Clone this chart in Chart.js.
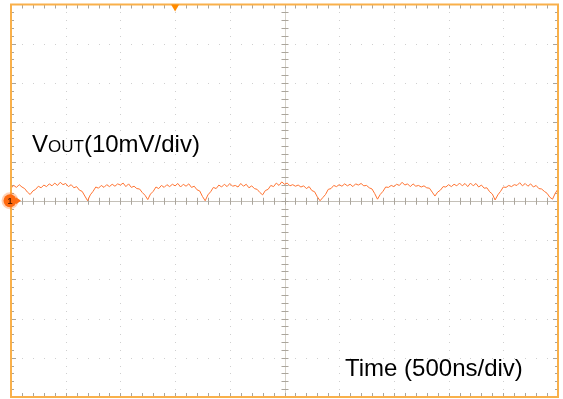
<!DOCTYPE html>
<html>
<head>
<meta charset="utf-8">
<script src="https://cdn.jsdelivr.net/npm/chart.js@4/dist/chart.umd.min.js"></script>
<style>
  html, body { margin: 0; padding: 0; background: #fff; }
  #wrap { width: 563px; height: 399px; position: relative; }
</style>
</head>
<body>
<div id="wrap"><canvas id="scope"></canvas></div>
<script>
// time axis: 500 ns/div, 10 divisions ; voltage: 10 mV/div, 10 divisions
const timeStart = -2500;
const timeStep = 25;
const xTicks = [-2500, -2000, -1500, -1000, -500, 0, 500, 1000, 1500, 2000, 2500];
const yTicks = [-50, -40, -30, -20, -10, 0, 10, 20, 30, 40, 50];

// VOUT ripple (mV), one sample every 25 ns
const vout = [
  3.2, 3.9, 3.4, 4.1, 3.5, 3.1, 2.2, 1.6, 2.5, 2.9,
  3.7, 3.3, 4.0, 3.6, 4.3, 3.8, 4.5, 3.9, 4.7, 4.1,
  4.4, 3.6, 4.1, 3.3, 3.6, 2.7, 2.4, 1.2, 0.0, 1.5,
  2.4, 3.5, 3.2, 3.9, 3.4, 4.1, 3.6, 4.2, 3.7, 4.3,
  4.0, 4.5, 3.6, 4.3, 3.4, 3.7, 3.1, 3.0, 2.1, 1.4,
  0.3, 1.7, 2.4, 3.5, 3.1, 3.9, 3.4, 4.1, 3.6, 4.2,
  3.8, 4.4, 3.5, 4.2, 3.7, 4.3, 3.4, 3.7, 2.8, 2.5,
  1.1, 0.0, 1.5, 2.3, 3.4, 3.1, 4.0, 3.5, 4.2, 3.6,
  4.4, 3.7, 3.9, 3.5, 4.4, 3.7, 4.2, 3.3, 3.8, 3.1,
  2.9, 2.1, 1.5, 2.6, 2.9, 3.9, 3.6, 4.5, 3.9, 4.8,
  4.2, 4.5, 3.8, 4.1, 3.7, 4.0, 3.5, 3.8, 3.1, 3.6,
  2.6, 2.3, 1.0, 0.0, 0.8, 1.6, 2.9, 3.1, 3.9, 3.6,
  4.1, 3.7, 4.3, 3.8, 4.2, 3.6, 4.3, 4.0, 4.4, 3.8,
  3.9, 3.3, 3.0, 1.8, 0.4, 1.6, 2.4, 3.5, 3.4, 3.9,
  3.6, 4.2, 3.9, 4.7, 4.0, 4.3, 3.6, 4.3, 3.7, 3.9,
  3.5, 3.8, 3.3, 3.2, 2.2, 1.2, 2.2, 2.7, 3.6, 3.5,
  4.1, 3.6, 4.2, 3.8, 4.5, 3.8, 4.4, 3.6, 4.5, 3.8,
  4.4, 3.5, 4.0, 3.2, 3.3, 2.3, 1.7, 0.2, 1.5, 2.4,
  3.5, 3.4, 3.9, 3.6, 4.1, 3.9, 4.6, 3.8, 4.4, 3.7,
  4.3, 3.5, 3.9, 3.1, 3.0, 2.4, 1.9, 0.9, 0.4, 1.9,
  3.0
];

const triggerTime = -1000;

const points = vout.map((v, i) => ({ x: timeStart + i * timeStep, y: v }));

const frameColor = '#f9b04a';
const traceColor = '#ff7433';

// graticule, markers and labels, drawn from the scales
const scopePlugin = {
  id: 'scope',
  beforeDatasetsDraw(chart) {
    const ctx = chart.ctx;
    const xs = chart.scales.x, ys = chart.scales.y;
    const a = chart.chartArea;
    const cx = xs.getPixelForValue(0), cy = ys.getPixelForValue(0);
    ctx.save();
    // dotted major grid
    ctx.fillStyle = '#cfcfcf';
    xTicks.slice(1, -1).forEach(t => {
      if (t === 0) return;
      const px = Math.round(xs.getPixelForValue(t));
      for (let v = yTicks[0]; v <= yTicks[yTicks.length - 1]; v += 2) {
        ctx.fillRect(px, Math.round(ys.getPixelForValue(v)), 1, 1);
      }
    });
    yTicks.slice(1, -1).forEach(v => {
      if (v === 0) return;
      const py = Math.round(ys.getPixelForValue(v));
      for (let t = xTicks[0]; t <= xTicks[xTicks.length - 1]; t += 100) {
        ctx.fillRect(Math.round(xs.getPixelForValue(t)), py, 1, 1);
      }
    });
    // centre axes
    ctx.strokeStyle = '#d6d2ca';
    ctx.lineWidth = 1;
    ctx.beginPath();
    ctx.moveTo(Math.round(cx) + 0.5, a.top); ctx.lineTo(Math.round(cx) + 0.5, a.bottom);
    ctx.stroke();
    ctx.strokeStyle = '#c4c0b8';
    ctx.beginPath();
    ctx.moveTo(a.left, Math.round(cy) + 0.5); ctx.lineTo(a.right, Math.round(cy) + 0.5);
    ctx.stroke();
    // minor ticks on centre axes and frame
    ctx.strokeStyle = '#aaa59c';
    ctx.beginPath();
    for (let t = xTicks[0] + 100; t < xTicks[xTicks.length - 1]; t += 100) {
      const px = Math.round(xs.getPixelForValue(t)) + 0.5;
      ctx.moveTo(px, cy - 3); ctx.lineTo(px, cy + 4);
      ctx.moveTo(px, a.top); ctx.lineTo(px, a.top + 4);
      ctx.moveTo(px, a.bottom); ctx.lineTo(px, a.bottom - 4);
    }
    for (let v = yTicks[0] + 2; v < yTicks[yTicks.length - 1]; v += 2) {
      const py = Math.round(ys.getPixelForValue(v)) + 0.5;
      const len = v % 10 === 0 ? 5 : 3;
      ctx.moveTo(cx - 3, py); ctx.lineTo(cx + 4, py);
      ctx.moveTo(a.left, py); ctx.lineTo(a.left + len, py);
      ctx.moveTo(a.right, py); ctx.lineTo(a.right - len, py);
    }
    ctx.stroke();
    ctx.restore();
  },
  afterDraw(chart) {
    const ctx = chart.ctx;
    const xs = chart.scales.x, ys = chart.scales.y;
    const a = chart.chartArea;
    ctx.save();
    // frame
    ctx.strokeStyle = frameColor;
    ctx.lineWidth = 2;
    ctx.strokeRect(a.left, a.top, a.right - a.left, a.bottom - a.top);
    // trigger marker
    const tx = xs.getPixelForValue(triggerTime);
    ctx.fillStyle = '#ff8a00';
    ctx.beginPath();
    ctx.moveTo(tx - 4, a.top); ctx.lineTo(tx + 4, a.top); ctx.lineTo(tx, a.top + 7);
    ctx.closePath(); ctx.fill();
    // channel 1 ground marker
    const gy = ys.getPixelForValue(0);
    ctx.fillStyle = '#ff6a10';
    ctx.beginPath();
    ctx.moveTo(a.left + 5, gy - 3.5); ctx.lineTo(a.left + 10, gy); ctx.lineTo(a.left + 5, gy + 3.5);
    ctx.closePath(); ctx.fill();
    ctx.fillRect(a.left, gy - 1, 6, 2);
    ctx.fillStyle = 'rgba(255,120,40,0.35)';
    ctx.beginPath(); ctx.arc(a.left - 1, gy, 8.5, 0, Math.PI * 2); ctx.fill();
    ctx.fillStyle = '#ff6a10';
    ctx.beginPath(); ctx.arc(a.left - 1, gy, 6.5, 0, Math.PI * 2); ctx.fill();
    ctx.fillStyle = '#5a2000';
    ctx.font = 'bold 9px "Liberation Sans", Arial, sans-serif';
    ctx.textAlign = 'center'; ctx.textBaseline = 'middle';
    ctx.fillText('1', a.left - 1, gy + 0.5);
    // labels
    ctx.fillStyle = '#000';
    ctx.textAlign = 'left'; ctx.textBaseline = 'alphabetic';
    ctx.font = '24px "Liberation Sans", Arial, sans-serif';
    let x = 32;
    ctx.fillText('V', x, 152);
    x += ctx.measureText('V').width;
    ctx.font = '17px "Liberation Sans", Arial, sans-serif';
    ctx.fillText('OUT', x, 152);
    x += ctx.measureText('OUT').width;
    ctx.font = '24px "Liberation Sans", Arial, sans-serif';
    ctx.fillText('(10mV/div)', x, 152);
    ctx.fillText('Time (500ns/div)', 345, 376);
    ctx.restore();
  }
};

new Chart(document.getElementById('scope'), {
  type: 'line',
  data: {
    datasets: [{
      label: 'VOUT',
      data: points,
      borderColor: traceColor,
      borderWidth: 1,
      pointRadius: 0,
      tension: 0,
      fill: false
    }]
  },
  options: {
    responsive: true,
    maintainAspectRatio: false,
    animation: false,
    events: [],
    layout: { padding: { left: 11, right: 5, top: 4.5, bottom: 2 } },
    plugins: { legend: { display: false }, tooltip: { enabled: false } },
    scales: {
      x: { type: 'linear', min: xTicks[0], max: xTicks[xTicks.length - 1], display: false },
      y: { type: 'linear', min: yTicks[0], max: yTicks[yTicks.length - 1], display: false }
    }
  },
  plugins: [scopePlugin]
});
</script>
</body>
</html>
